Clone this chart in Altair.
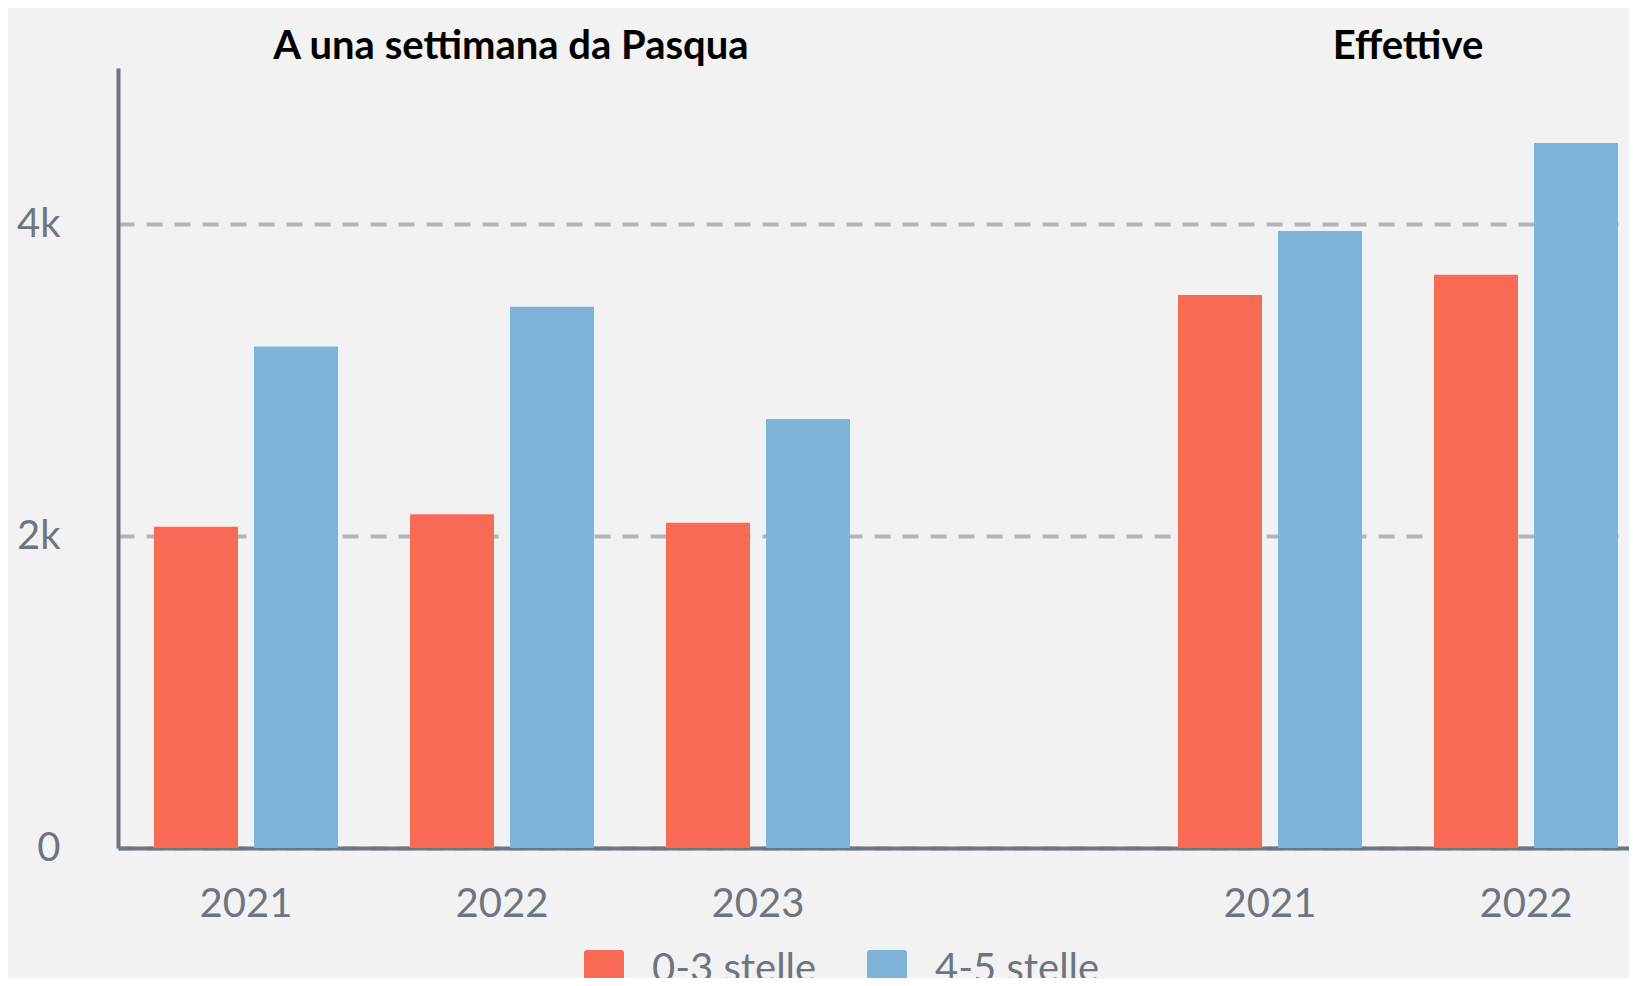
import altair as alt
import pandas as pd

# ---- data ----
slots = ["P2021", "P2022", "P2023", "E2021", "E2022"]
slot_domain = ["P2021", "P2022", "P2023", "G", "E2021", "E2022"]
series = ["0-3 stelle", "4-5 stelle"]
low = [2060, 2140, 2085, 3545, 3675]
high = [3215, 3470, 2750, 3955, 4520]
panel_titles = ["A una settimana da Pasqua", "Effettive"]
title_slots = ["P2022", "E2021"]
colors = ["#f96a54", "#7eb3da"]

rows = []
for s, a, b in zip(slots, low, high):
    rows.append({"slot": s, "serie": series[0], "valore": a})
    rows.append({"slot": s, "serie": series[1], "valore": b})
df = pd.DataFrame(rows)

FONT = "Lato"
GRAY = "#6d7580"
BG = "#f2f2f2"

x_scale = alt.Scale(domain=slot_domain, range=[0, 1536], paddingInner=0, paddingOuter=0)
x_axis = alt.Axis(
    title=None,
    labelExpr="substring(datum.label, 1)",
    labelAngle=0,
    labelFont=FONT,
    labelFontSize=40,
    labelColor=GRAY,
    labelPadding=56,
    labelBaseline="middle",
    ticks=False,
    domainColor=GRAY,
    domainWidth=4,
    grid=False,
)
x_enc = alt.X("slot:N", scale=x_scale, sort=slot_domain, axis=x_axis)

rounded = "M-0.85,-1H0.85Q1,-1 1,-0.85V0.85Q1,1 0.85,1H-0.85Q-1,1 -1,0.85V-0.85Q-1,-1 -0.85,-1Z"

bars = alt.Chart(df).mark_bar().encode(
    x=x_enc,
    xOffset=alt.XOffset("serie:N", scale=alt.Scale(domain=series, paddingInner=0.16, paddingOuter=0.36)),
    y=alt.Y(
        "valore:Q",
        scale=alt.Scale(domain=[0, 5000], nice=False),
        axis=alt.Axis(
            title=None,
            values=[0, 2000, 4000],
            labelExpr="datum.value == 0 ? '0' : (datum.value / 1000) + 'k'",
            labelFont=FONT,
            labelFontSize=40,
            labelColor=GRAY,
            labelPadding=58,
            ticks=False,
            domainColor=GRAY,
            domainWidth=4,
            grid=True,
            gridColor="#b1b5ba",
            gridDash=[16, 12],
            gridWidth=4,
        ),
    ),
    color=alt.Color(
        "serie:N",
        scale=alt.Scale(domain=series, range=colors),
        legend=alt.Legend(
            title=None,
            orient="none",
            legendX=466,
            legendY=882,
            direction="horizontal",
            symbolType=rounded,
            symbolSize=1600,
            symbolStrokeWidth=0,
            labelFont=FONT,
            labelFontSize=40,
            labelColor=GRAY,
            labelOffset=28,
            labelLimit=500,
            columnPadding=50,
            padding=0,
        ),
    ),
)

t_df = pd.DataFrame({"slot": title_slots, "titolo": panel_titles})

title1 = alt.Chart(t_df.iloc[[0]]).mark_text(
    font=FONT, fontSize=40, fontWeight="bold", color="#000000", baseline="alphabetic", dx=9
).encode(x=x_enc, y=alt.value(-9), text="titolo:N")

title2 = alt.Chart(t_df.iloc[[1]]).mark_text(
    font=FONT, fontSize=40, fontWeight="bold", color="#000000", baseline="alphabetic", dx=138
).encode(x=x_enc, y=alt.value(-9), text="titolo:N")

chart = (
    alt.layer(bars, title1, title2)
    .properties(
        width=1511,
        height=780,
        autosize=alt.AutoSizeParams(type="none"),
        padding={"left": 110, "top": 60, "right": 0, "bottom": 130},
        background=BG,
    )
    .configure_view(strokeWidth=0)
)

chart.save("out.html", embed_options={"renderer": "svg", "actions": False})
